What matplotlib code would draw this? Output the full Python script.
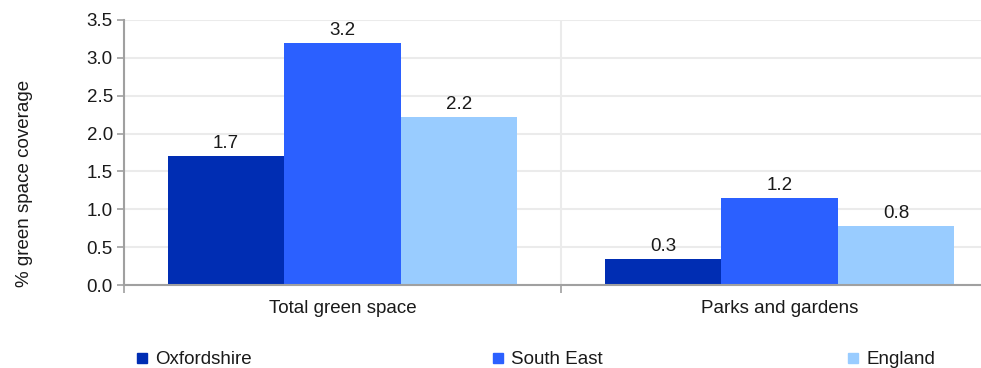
import matplotlib
matplotlib.use('Agg')
import matplotlib.pyplot as plt
from matplotlib.patches import Rectangle
import numpy as np

plt.rcParams['font.family'] = ['Liberation Sans', 'DejaVu Sans']

# data
categories = ['Total green space', 'Parks and gardens']
series = ['Oxfordshire', 'South East', 'England']
oxfordshire = [1.70, 0.34]
south_east = [3.20, 1.15]
england = [2.22, 0.78]
bar_labels = [['1.7', '0.3'], ['3.2', '1.2'], ['2.2', '0.8']]

colors = ['#002DB3', '#2B60FF', '#99CCFF']
GRID = '#EBEBEB'
AXIS = '#A0A0A0'
TEXT = '#1A1A1A'
FS = 13.5

fig = plt.figure(figsize=(9.81, 3.68), dpi=100)
W, H = 981, 368
ax = fig.add_axes([124 / W, 1 - 285 / H, (998 - 124) / W, (285 - 20) / H])

x = np.arange(len(categories))
width = 0.8 / 3
values = [oxfordshire, south_east, england]
for i, (vals, col) in enumerate(zip(values, colors)):
    bars = ax.bar(x + (i - 1) * width, vals, width, color=col, zorder=3)
    for bar, lab in zip(bars, bar_labels[i]):
        ax.annotate(lab, (bar.get_x() + bar.get_width() / 2, bar.get_height()),
                    xytext=(0, 3), textcoords='offset points',
                    ha='center', va='bottom', fontsize=FS, color=TEXT)

ax.set_xlim(-0.5, 1.5)
ax.set_ylim(0, 3.5)
ax.set_yticks(np.arange(0, 3.51, 0.5))
ax.set_yticklabels([f'{v:.1f}' for v in np.arange(0, 3.51, 0.5)])
ax.tick_params(axis='y', length=5, width=1.2, color=AXIS, labelsize=FS,
               labelcolor=TEXT, pad=3)

# boundary ticks + category labels
ax.set_xticks([-0.5, 0.5, 1.5])
ax.set_xticklabels([])
ax.tick_params(axis='x', which='major', length=6, width=1.2, color=AXIS)
ax.set_xticks(x, minor=True)
ax.set_xticklabels(categories, minor=True)
ax.tick_params(axis='x', which='minor', length=0, pad=11, labelsize=FS,
               labelcolor=TEXT)

ax.grid(axis='y', color=GRID, lw=1.5, zorder=0)
ax.grid(axis='x', which='major', color=GRID, lw=1.5, zorder=0)

for s in ['top', 'right']:
    ax.spines[s].set_visible(False)
for s in ['left', 'bottom']:
    ax.spines[s].set_color(AXIS)
    ax.spines[s].set_linewidth(1.5)
    ax.spines[s].set_zorder(4)

fig.text(25 / W, 1 - 183 / H, '% green space coverage', rotation=90,
         ha='center', va='center', fontsize=FS, color=TEXT)

# legend (nudged up slightly so the text is not clipped)
leg_x = [137, 493, 848]
for lx, name, col in zip(leg_x, series, colors):
    fig.add_artist(Rectangle((lx / W, 1 - 363 / H), 10 / W, 10 / H,
                             transform=fig.transFigure, color=col))
    fig.text((lx + 18) / W, 1 - 363.5 / H, name, ha='left', va='baseline',
             fontsize=FS, color=TEXT)

fig.savefig('out.png', dpi=100)
